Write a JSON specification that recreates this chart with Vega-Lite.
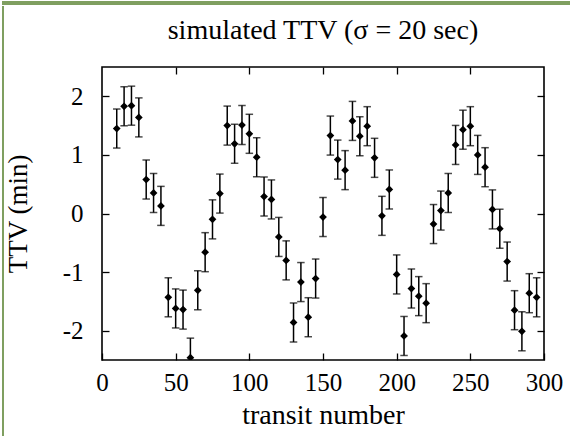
{
  "$schema": "https://vega.github.io/schema/vega-lite/v6.json",
  "padding": 0,
  "background": "white",
  "config": {
    "font": "Liberation Serif",
    "view": {"stroke": "black", "strokeWidth": 1.6},
    "axis": {"labelFont": "Liberation Serif", "titleFont": "Liberation Serif", "labelColor": "black", "titleColor": "black"},
    "title": {"font": "Liberation Serif", "color": "black"},
    "concat": {"spacing": 0}
  },
  "spacing": 0,
  "vconcat": [
    {
      "width": 570, "height": 4,
      "view": {"fill": "#7f9f60", "stroke": null},
      "data": {"values": [{"a": 1}]},
      "mark": {"type": "point", "opacity": 0},
      "encoding": {}
    },
    {
      "spacing": -3,
      "hconcat": [
        {
          "width": 2, "height": 432,
          "view": {"fill": "#7f9f60", "stroke": null},
          "data": {"values": [{"a": 1}]},
          "mark": {"type": "point", "opacity": 0},
          "encoding": {}
        },
        {
          "spacing": 0,
          "vconcat": [
            {
              "width": 1, "height": 10,
              "view": {"fill": null, "stroke": null},
              "data": {"values": [{"a": 1}]},
              "mark": {"type": "point", "opacity": 0},
              "encoding": {}
            },
            {
              "width": 442,
              "height": 293,
              "title": {"text": "simulated TTV (σ = 20 sec)", "fontSize": 28, "fontWeight": "normal", "color": "black", "frame": "group", "anchor": "middle", "offset": 21},
              "data": {"values": [
                {"n": 10, "ttv": 1.45, "err": 0.333},
                {"n": 15, "ttv": 1.83, "err": 0.333},
                {"n": 20, "ttv": 1.84, "err": 0.333},
                {"n": 25, "ttv": 1.64, "err": 0.333},
                {"n": 30, "ttv": 0.58, "err": 0.333},
                {"n": 35, "ttv": 0.35, "err": 0.333},
                {"n": 40, "ttv": 0.13, "err": 0.333},
                {"n": 45, "ttv": -1.43, "err": 0.333},
                {"n": 50, "ttv": -1.62, "err": 0.333},
                {"n": 55, "ttv": -1.64, "err": 0.333},
                {"n": 60, "ttv": -2.46, "err": 0.333},
                {"n": 65, "ttv": -1.31, "err": 0.333},
                {"n": 70, "ttv": -0.66, "err": 0.333},
                {"n": 75, "ttv": -0.10, "err": 0.333},
                {"n": 80, "ttv": 0.34, "err": 0.333},
                {"n": 85, "ttv": 1.50, "err": 0.333},
                {"n": 90, "ttv": 1.19, "err": 0.333},
                {"n": 95, "ttv": 1.51, "err": 0.333},
                {"n": 100, "ttv": 1.36, "err": 0.333},
                {"n": 105, "ttv": 0.96, "err": 0.333},
                {"n": 110, "ttv": 0.29, "err": 0.333},
                {"n": 115, "ttv": 0.24, "err": 0.333},
                {"n": 120, "ttv": -0.40, "err": 0.333},
                {"n": 125, "ttv": -0.80, "err": 0.333},
                {"n": 130, "ttv": -1.86, "err": 0.333},
                {"n": 135, "ttv": -1.17, "err": 0.333},
                {"n": 140, "ttv": -1.77, "err": 0.333},
                {"n": 145, "ttv": -1.11, "err": 0.333},
                {"n": 150, "ttv": -0.06, "err": 0.333},
                {"n": 155, "ttv": 1.33, "err": 0.333},
                {"n": 160, "ttv": 0.92, "err": 0.333},
                {"n": 165, "ttv": 0.74, "err": 0.333},
                {"n": 170, "ttv": 1.58, "err": 0.333},
                {"n": 175, "ttv": 1.32, "err": 0.333},
                {"n": 180, "ttv": 1.49, "err": 0.333},
                {"n": 185, "ttv": 0.95, "err": 0.333},
                {"n": 190, "ttv": -0.04, "err": 0.333},
                {"n": 195, "ttv": 0.41, "err": 0.333},
                {"n": 200, "ttv": -1.04, "err": 0.333},
                {"n": 205, "ttv": -2.09, "err": 0.333},
                {"n": 210, "ttv": -1.28, "err": 0.333},
                {"n": 215, "ttv": -1.41, "err": 0.333},
                {"n": 220, "ttv": -1.53, "err": 0.333},
                {"n": 225, "ttv": -0.18, "err": 0.333},
                {"n": 230, "ttv": 0.05, "err": 0.333},
                {"n": 235, "ttv": 0.35, "err": 0.333},
                {"n": 240, "ttv": 1.17, "err": 0.333},
                {"n": 245, "ttv": 1.43, "err": 0.333},
                {"n": 250, "ttv": 1.49, "err": 0.333},
                {"n": 255, "ttv": 1.00, "err": 0.333},
                {"n": 260, "ttv": 0.79, "err": 0.333},
                {"n": 265, "ttv": 0.07, "err": 0.333},
                {"n": 270, "ttv": -0.26, "err": 0.333},
                {"n": 275, "ttv": -0.82, "err": 0.333},
                {"n": 280, "ttv": -1.65, "err": 0.333},
                {"n": 285, "ttv": -2.01, "err": 0.333},
                {"n": 290, "ttv": -1.36, "err": 0.333},
                {"n": 295, "ttv": -1.43, "err": 0.333}
              ]},
              "resolve": {"axis": {"x": "independent", "y": "independent"}},
              "layer": [
                {
                  "mark": {"type": "errorbar", "clip": true, "color": "black", "thickness": 1.5, "ticks": {"size": 7.5}},
                  "encoding": {
                    "x": {"field": "n", "type": "quantitative",
                      "scale": {"domain": [0, 300], "nice": false, "zero": false},
                      "axis": {"orient": "bottom", "values": [0, 50, 100, 150, 200, 250, 300], "grid": false, "domain": false,
                        "tickSize": -7, "tickColor": "black", "tickWidth": 1.3,
                        "labelFontSize": 25, "labelColor": "black", "labelPadding": 17, "labelFlush": false,
                        "title": "transit number", "titleFontSize": 28, "titleFontWeight": "normal", "titleColor": "black", "titlePadding": 6}},
                    "y": {"field": "ttv", "type": "quantitative",
                      "scale": {"domain": [-2.5, 2.5], "nice": false, "zero": false},
                      "axis": {"orient": "left", "values": [-2, -1, 0, 1, 2], "grid": false, "domain": false,
                        "tickSize": -7, "tickColor": "black", "tickWidth": 1.3,
                        "labelFontSize": 25, "labelColor": "black", "labelPadding": 26, "labelExpr": "'' + datum.value",
                        "title": "TTV (min)", "titleFontSize": 27, "titleFontWeight": "normal", "titleColor": "black", "titleX": -70}},
                    "yError": {"field": "err"}
                  }
                },
                {
                  "mark": {"type": "point", "shape": "diamond", "filled": true, "color": "black", "opacity": 1, "size": 60, "clip": true},
                  "encoding": {
                    "x": {"field": "n", "type": "quantitative", "axis": null},
                    "y": {"field": "ttv", "type": "quantitative", "axis": null}
                  }
                },
                {
                  "mark": {"type": "point", "opacity": 0},
                  "encoding": {
                    "x": {"field": "n", "type": "quantitative",
                      "axis": {"orient": "top", "values": [50, 100, 150, 200, 250], "grid": false, "domain": false, "labels": false,
                        "tickSize": -7, "tickColor": "black", "tickWidth": 1.3, "title": null}},
                    "y": {"field": "ttv", "type": "quantitative",
                      "axis": {"orient": "right", "values": [-2, -1, 0, 1, 2], "grid": false, "domain": false, "labels": false,
                        "tickSize": -7, "tickColor": "black", "tickWidth": 1.3, "title": null}}
                  }
                }
              ]
            }
          ]
        }
      ]
    }
  ]
}
